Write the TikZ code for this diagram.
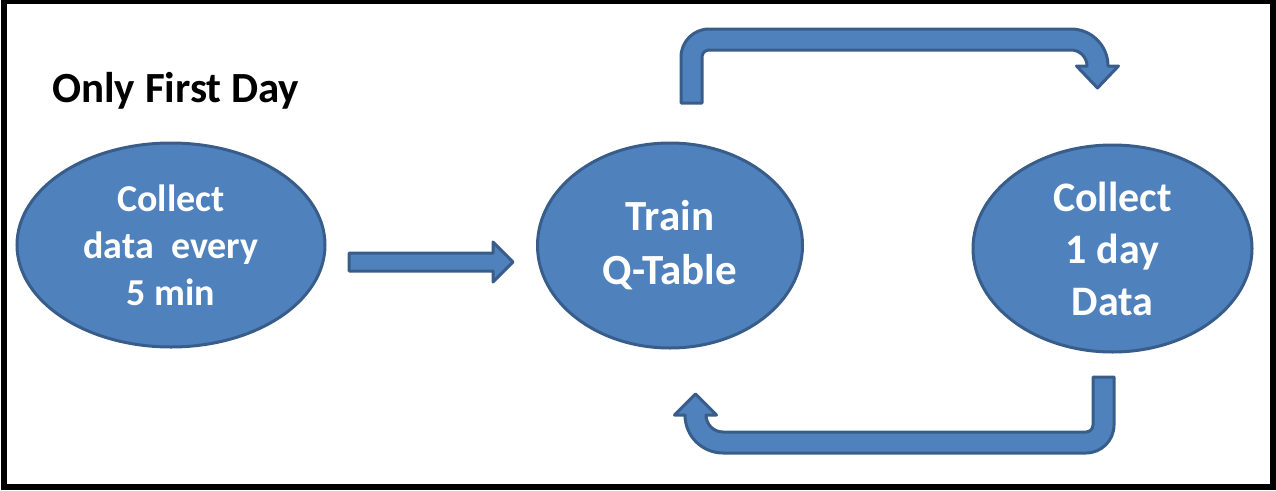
\documentclass[tikz,border=0pt]{standalone}
\usepackage{fontspec}
\setmainfont{Carlito}
\usetikzlibrary{shapes.geometric}
\definecolor{blockfill}{HTML}{4F81BD}
\definecolor{blockline}{HTML}{385D8A}
\tikzset{
  blob/.style={ellipse, draw=blockline, fill=blockfill, line width=3pt,
    text=white, font=\bfseries, align=center, inner sep=0pt},
  blockarrow/.style={draw=blockline, fill=blockfill, line width=3pt, line join=round},
}
\begin{document}
\begin{tikzpicture}[x=1pt, y=1pt]
  \useasboundingbox (0,0) rectangle (1276,-490);
  % outer frame
  \draw[line width=6pt] (3.5,-1) rectangle (1273,-486.5);

  % heading
  \node[anchor=base west, inner sep=0pt, font=\fontsize{43}{50}\selectfont\bfseries]
    (title) at (52,-102) {Only First Day};

  % process stages
  \node[blob, minimum width=308, minimum height=204,
        font=\fontsize{38}{47}\selectfont\bfseries] (collect) at (171,-245)
    {Collect\\data~ every\\5 min};
  \node[blob, minimum width=265, minimum height=205,
        font=\fontsize{43}{54}\selectfont\bfseries] (train) at (670,-245.5)
    {Train\\Q-Table};
  \node[blob, minimum width=279, minimum height=207,
        font=\fontsize{42}{52}\selectfont\bfseries] (day) at (1112.5,-248.5)
    {Collect\\1 day\\Data};

  % straight block arrow between the first two stages
  \draw[blockarrow] (349,-253) -- (493,-253) -- (493,-242) -- (513,-262)
    -- (493,-282) -- (493,-271) -- (349,-271) -- cycle;

  % upper bent arrow: training -> daily collection
  \draw[blockarrow] (681,-103) -- (681,-57) arc[start angle=180, end angle=90, radius=28]
    -- (1071,-29) arc[start angle=90, end angle=0, radius=37]
    -- (1118.5,-66) -- (1097.5,-88) -- (1076.5,-66) -- (1087,-66)
    arc[start angle=0, end angle=90, radius=16]
    -- (709,-50) arc[start angle=90, end angle=180, radius=7]
    -- (702,-103) -- cycle;

  % lower bent arrow: daily collection -> training
  \draw[blockarrow] (1114,-377) -- (1114,-425) arc[start angle=0, end angle=-90, radius=28]
    -- (723,-453) arc[start angle=-90, end angle=-180, radius=38]
    -- (674.5,-415) -- (695.5,-394) -- (716.5,-415) -- (706,-415)
    arc[start angle=180, end angle=270, radius=17]
    -- (1086,-432) arc[start angle=-90, end angle=0, radius=7]
    -- (1093,-377) -- cycle;
\end{tikzpicture}
\end{document}
